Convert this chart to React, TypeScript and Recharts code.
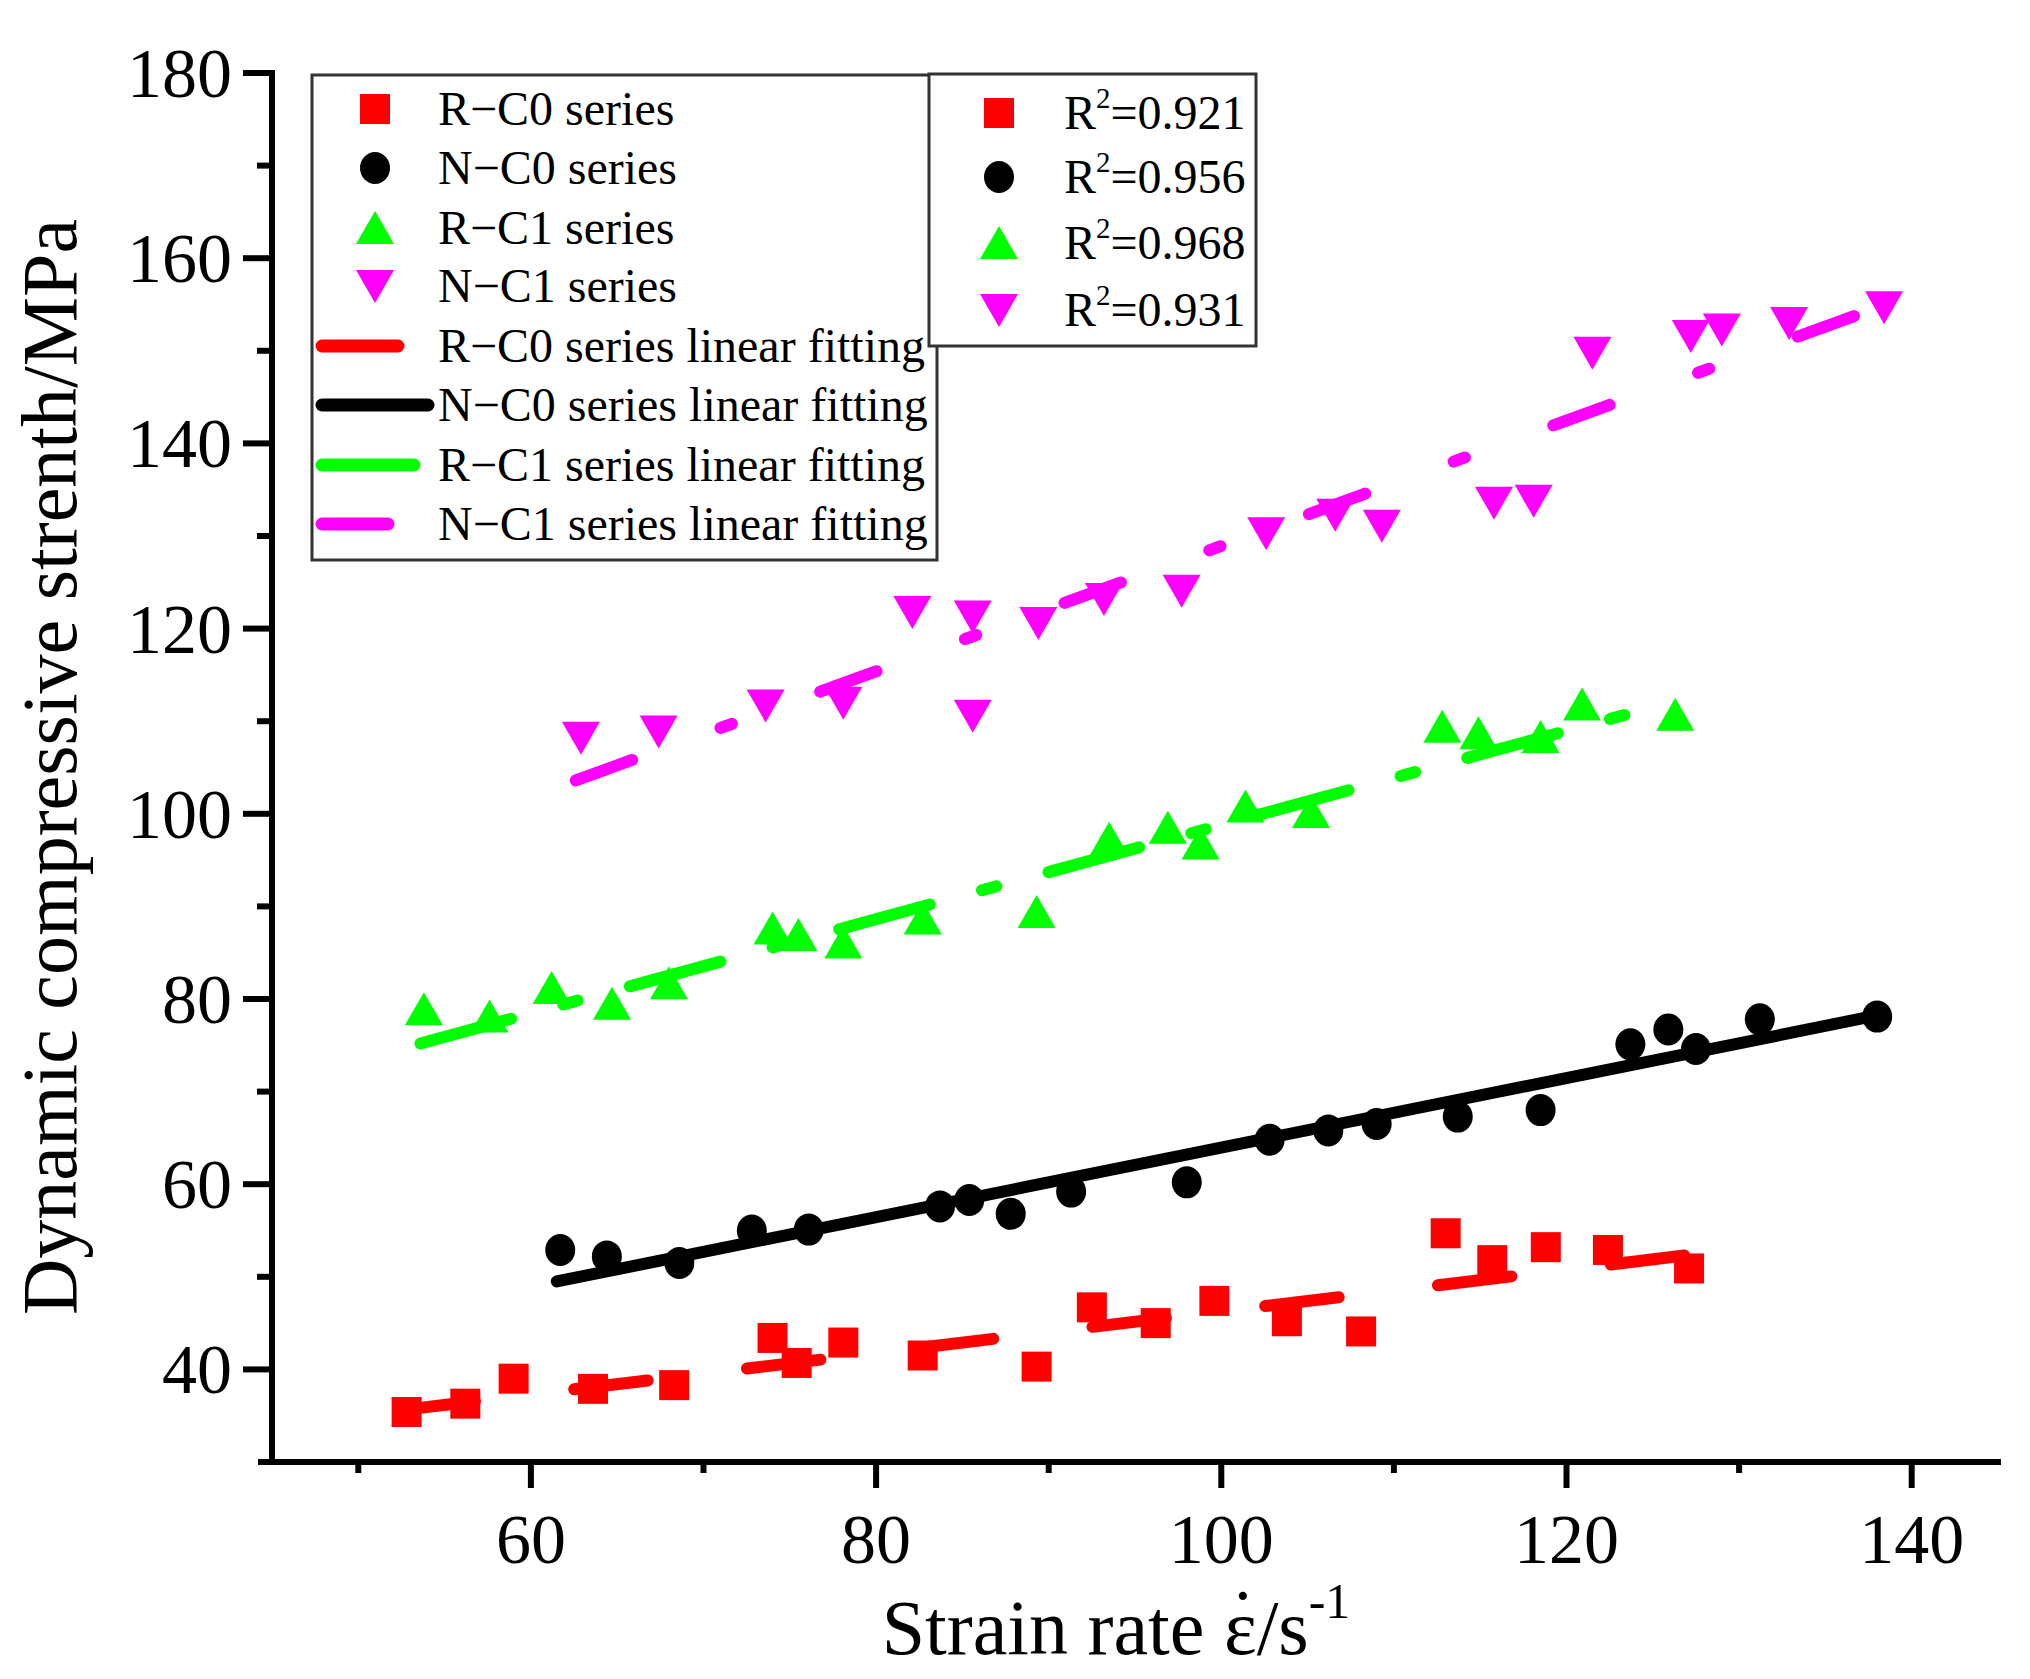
import React from "react";
import { ComposedChart, Scatter, Line, XAxis, YAxis } from "recharts";

const FONT = "'Liberation Serif', 'Times New Roman', serif";

// strain rate (x) / strength (y)
const RC0_X = [52.8, 56.2, 59.0, 63.6, 68.3, 74.0, 75.4, 78.1, 82.7, 89.3, 92.5, 96.2, 99.6, 103.8, 108.1, 113.0, 115.7, 118.8, 122.4, 127.1];
const RC0_Y = [35.4, 36.3, 39.0, 37.9, 38.3, 43.4, 40.7, 42.9, 41.5, 40.3, 46.7, 45.0, 47.4, 45.2, 44.1, 54.7, 51.8, 53.2, 52.9, 50.9];

const NC0_X = [61.7, 64.4, 68.6, 72.8, 76.1, 83.7, 85.4, 87.8, 91.3, 98.0, 102.8, 106.2, 109.0, 113.7, 118.5, 123.7, 125.9, 127.5, 131.2, 138.0];
const NC0_Y = [52.9, 52.2, 51.5, 55.0, 55.1, 57.6, 58.3, 56.8, 59.2, 60.2, 64.8, 65.8, 66.5, 67.3, 68.0, 75.1, 76.7, 74.6, 77.8, 78.1];

const RC1_X = [53.8, 57.6, 61.2, 64.7, 68.0, 74.0, 75.5, 78.1, 82.7, 89.3, 93.5, 96.9, 98.8, 101.4, 105.2, 112.8, 114.9, 118.5, 120.9, 126.3];
const RC1_Y = [78.9, 78.1, 81.2, 79.5, 81.7, 87.6, 86.9, 86.1, 88.7, 89.4, 97.3, 98.5, 96.8, 100.8, 100.2, 109.4, 108.7, 108.3, 111.8, 110.7];

const NC1_X = [62.9, 67.4, 73.6, 78.1, 82.1, 85.6, 85.6, 89.4, 93.2, 97.7, 102.6, 106.6, 109.3, 115.8, 118.1, 121.5, 127.2, 129.0, 132.9, 138.4];
const NC1_Y = [108.2, 108.9, 111.7, 112.0, 121.8, 121.3, 110.6, 120.6, 123.2, 124.1, 130.3, 132.3, 131.1, 133.6, 133.8, 149.8, 151.6, 152.3, 153.0, 154.7];

// fitted line end points
const RC0_FIT_X = [52.5, 127.3];
const RC0_FIT_Y = [35.6, 52.4];
const NC0_FIT_X = [61.5, 138.2];
const NC0_FIT_Y = [49.5, 78.3];
const RC1_FIT_X = [53.6, 124.6];
const RC1_FIT_Y = [75.2, 111.3];
const NC1_FIT_X = [62.6, 138.8];
const NC1_FIT_Y = [103.6, 155.2];

const X_TICKS = [50, 60, 70, 80, 90, 100, 110, 120, 130, 140];
const Y_TICKS = [40, 50, 60, 70, 80, 90, 100, 110, 120, 130, 140, 150, 160, 170, 180];

const SERIES_LABELS = ["R\u2212C0 series", "N\u2212C0 series", "R\u2212C1 series", "N\u2212C1 series"];
const FIT_LABELS = [
  "R\u2212C0 series linear fitting",
  "N\u2212C0 series linear fitting",
  "R\u2212C1 series linear fitting",
  "N\u2212C1 series linear fitting",
];
const R2_VALUES = ["0.921", "0.956", "0.968", "0.931"];

const zip = (xs: number[], ys: number[]) => xs.map((x, i) => ({ x, y: ys[i] }));

const rc0 = zip(RC0_X, RC0_Y);
const nc0 = zip(NC0_X, NC0_Y);
const rc1 = zip(RC1_X, RC1_Y);
const nc1 = zip(NC1_X, NC1_Y);

const COLORS = ["#ff0000", "#000000", "#00ff00", "#ff00ff"];
const DASHES = ["74 100", undefined, "94 54 15 54", "60 94 12 94"];

const Square = (p: any) => <rect x={p.cx - 15} y={p.cy - 15} width={30} height={30} fill={p.fill} />;
const Dot = (p: any) => <ellipse cx={p.cx} cy={p.cy} rx={15} ry={16} fill={p.fill} />;
const Up = (p: any) => (
  <polygon points={`${p.cx},${p.cy - 17} ${p.cx - 19},${p.cy + 16} ${p.cx + 19},${p.cy + 16}`} fill={p.fill} />
);
const Down = (p: any) => (
  <polygon points={`${p.cx - 19},${p.cy - 16} ${p.cx + 19},${p.cy - 16} ${p.cx},${p.cy + 17}`} fill={p.fill} />
);
const SHAPES = [Square, Dot, Up, Down];

function XTick(props: any) {
  const { x, y, payload } = props;
  const major = payload.value % 20 === 0;
  return (
    <g>
      <line x1={x} x2={x} y1={y} y2={y + (major ? 26 : 11)} stroke="#000" strokeWidth={6} />
      {major && (
        <text x={x} y={y + 101} textAnchor="middle" fontSize={70} fontFamily={FONT} fill="#000">
          {payload.value}
        </text>
      )}
    </g>
  );
}

function YTick(props: any) {
  const { x, y, payload } = props;
  const major = payload.value % 20 === 0;
  return (
    <g>
      <line x1={x} x2={x - (major ? 29 : 15)} y1={y} y2={y} stroke="#000" strokeWidth={6} />
      {major && (
        <text x={x - 40} y={y + 24} textAnchor="end" fontSize={70} fontFamily={FONT} fill="#000">
          {payload.value}
        </text>
      )}
    </g>
  );
}

function Legends() {
  const rowsL = [109, 168, 228, 286, 346, 405, 465, 524];
  const lineEnds = [398, 428, 414, 388];
  const rowsR = [113, 177, 243, 310];
  return (
    <svg width={2030} height={1679} style={{ position: "absolute", left: 0, top: 0, pointerEvents: "none" }}>
      {/* the x axis reaches a little past the y axis on the left */}
      <line x1={258} x2={275} y1={1462} y2={1462} stroke="#000" strokeWidth={6} />
      <rect x={312} y={75} width={625} height={485} fill="#fff" stroke="#333" strokeWidth={3} />
      {SERIES_LABELS.map((t, i) => {
        const S = SHAPES[i];
        return (
          <g key={t}>
            <S cx={375} cy={rowsL[i]} fill={COLORS[i]} />
            <text x={438} y={rowsL[i] + 16} fontSize={48} fontFamily={FONT}>{t}</text>
          </g>
        );
      })}
      {FIT_LABELS.map((t, i) => (
        <g key={t}>
          <line x1={322} x2={lineEnds[i]} y1={rowsL[i + 4]} y2={rowsL[i + 4]} stroke={COLORS[i]} strokeWidth={13} strokeLinecap="round" />
          <text x={438} y={rowsL[i + 4] + 16} fontSize={48} fontFamily={FONT}>{t}</text>
        </g>
      ))}
      <rect x={929} y={74} width={327} height={272} fill="#fff" stroke="#333" strokeWidth={3} />
      {R2_VALUES.map((v, i) => {
        const S = SHAPES[i];
        return (
          <g key={v}>
            <S cx={999} cy={rowsR[i]} fill={COLORS[i]} />
            <text x={1064} y={rowsR[i] + 16} fontSize={48} fontFamily={FONT}>
              R<tspan fontSize={29} dy={-21}>2</tspan>
              <tspan dy={21}>={v}</tspan>
            </text>
          </g>
        );
      })}
    </svg>
  );
}

export default function App() {
  const fits = [
    zip(RC0_FIT_X, RC0_FIT_Y),
    zip(NC0_FIT_X, NC0_FIT_Y),
    zip(RC1_FIT_X, RC1_FIT_Y),
    zip(NC1_FIT_X, NC1_FIT_Y),
  ];
  const pts = [rc0, nc0, rc1, nc1];
  return (
    <div style={{ position: "absolute", left: 0, top: 0, width: 2030, height: 1679, background: "#fff" }}>
      <ComposedChart width={2030} height={1679} margin={{ top: 73, right: 32, bottom: 0, left: 0 }}>
        <XAxis
          type="number"
          dataKey="x"
          domain={[45, 145]}
          ticks={X_TICKS}
          interval={0}
          tick={<XTick />}
          tickLine={false}
          tickSize={0}
          tickMargin={0}
          height={217}
          axisLine={{ stroke: "#000", strokeWidth: 6, strokeLinecap: "square" }}
          allowDataOverflow
        />
        <YAxis
          type="number"
          dataKey="y"
          domain={[30, 180]}
          ticks={Y_TICKS}
          interval={0}
          tick={<YTick />}
          tickLine={false}
          tickSize={0}
          tickMargin={0}
          width={272}
          axisLine={{ stroke: "#000", strokeWidth: 6, strokeLinecap: "square" }}
          allowDataOverflow
        />
        {pts.map((d, i) => (
          <Scatter key={"s" + i} data={d} fill={COLORS[i]} shape={SHAPES[i]} isAnimationActive={false} />
        ))}
        {fits.map((d, i) => (
          <Line
            key={"f" + i}
            data={d}
            dataKey="y"
            type="linear"
            stroke={COLORS[i]}
            strokeWidth={12}
            strokeLinecap="round"
            strokeDasharray={DASHES[i]}
            dot={false}
            activeDot={false}
            isAnimationActive={false}
          />
        ))}
        <text
          x={76}
          y={767}
          transform="rotate(-90 76 767)"
          textAnchor="middle"
          fontSize={78}
          fontFamily={FONT}
          fill="#000"
        >
          Dynamic compressive strenth/MPa
        </text>
        <text x={1116} y={1654} textAnchor="middle" fontSize={78} fontFamily={FONT} fill="#000">
          Strain rate {"\u03b5"}
          <tspan dx={-27} dy={-10}>{"\u02d9"}</tspan>
          <tspan dx={1} dy={10}>/s</tspan>
          <tspan fontSize={50} dy={-36}>-1</tspan>
        </text>
      </ComposedChart>
      <Legends />
    </div>
  );
}
